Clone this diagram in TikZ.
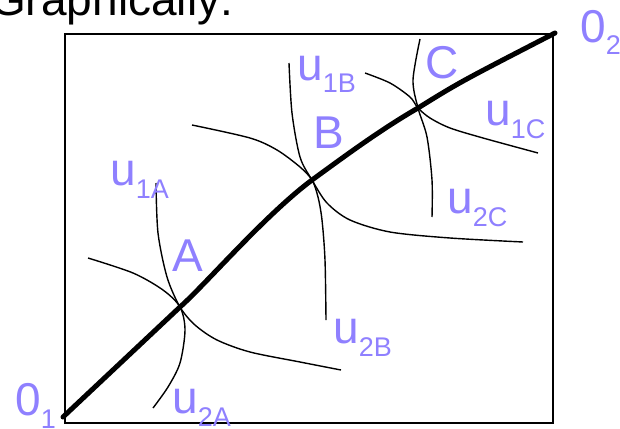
\documentclass[tikz,border=0pt]{standalone}
\usepackage{fontspec}
\setmainfont{Liberation Sans}
\usetikzlibrary{positioning}
\definecolor{lavanda}{HTML}{8F80FF}
\newcommand{\lbl}[2]{#1\raisebox{-13pt}{\fontsize{27}{30}\selectfont #2}}

\begin{document}
\begin{tikzpicture}[x=1pt, y=-1pt,
        big/.style={font=\fontsize{46}{50}\selectfont, inner sep=0pt},
        lab/.style={big, text=lavanda, anchor=base west},
        curva/.style={line width=1.4pt},
        contrato/.style={line width=5pt, line cap=round}]
        \clip (0,0) rectangle (620,428);
        \node[big, anchor=base west] (tit) at (-10,16) {Graphically:};
        \draw[line width=1.5pt] (65,34) rectangle (553,423);
        % points on the contract curve
        \coordinate (O1) at (63,417);
        \coordinate (A)  at (180,307);
        \coordinate (B)  at (312,180);
        \coordinate (C)  at (418,108);
        \coordinate (O2) at (555,33);
        % indifference curves
        \draw[curva] plot[smooth] coordinates {(156,183) (158,233) (167,277) (A) (195,325) (217,340) (250,352) (300,362) (341,370)};
        \draw[curva] plot[smooth] coordinates {(88,258) (133,273) (163,290) (A) (185,330) (180,363) (168,387) (153,408)};
        \draw[curva] plot[smooth] coordinates {(289,63) (292,113) (300,157) (B) (327,203) (350,220) (390,232) (450,238) (523,242)};
        \draw[curva] plot[smooth] coordinates {(192,125) (250,138) (277,150) (300,167) (B) (318,197) (322,220) (325,260) (326,320)};
        \draw[curva] plot[smooth] coordinates {(365,73) (390,83) (410,97) (C) (430,118) (450,128) (483,138) (538,153)};
        \draw[curva] plot[smooth] coordinates {(420,39) (413,80) (C) (427,137) (432,180) (432,217)};
        % contract curve
        \draw[contrato] (O1) -- (A) .. controls (205,285) and (265,215) .. (B)
            .. controls (345,156) and (380,130) .. (C) .. controls (460,82) .. (O2);
        % labels
        \node[lab] (l01)  at (15,415)  {\lbl{0}{1}};
        \node[lab] (l02)  at (580,42)  {\lbl{0}{2}};
        \node[lab] (lA)   at (172,271) {A};
        \node[lab] (lB)   at (313,148) {B};
        \node[lab] (lC)   at (425,78)  {C};
        \node[lab] (u1A)  at (110,185) {\lbl{u}{1A}};
        \node[lab] (u2A)  at (172,413) {\lbl{u}{2A}};
        \node[lab] (u1B)  at (297,80)  {\lbl{u}{1B}};
        \node[lab] (u2B)  at (333,343) {\lbl{u}{2B}};
        \node[lab] (u1C)  at (485,125) {\lbl{u}{1C}};
        \node[lab] (u2C)  at (447,213) {\lbl{u}{2C}};
\end{tikzpicture}
\end{document}
